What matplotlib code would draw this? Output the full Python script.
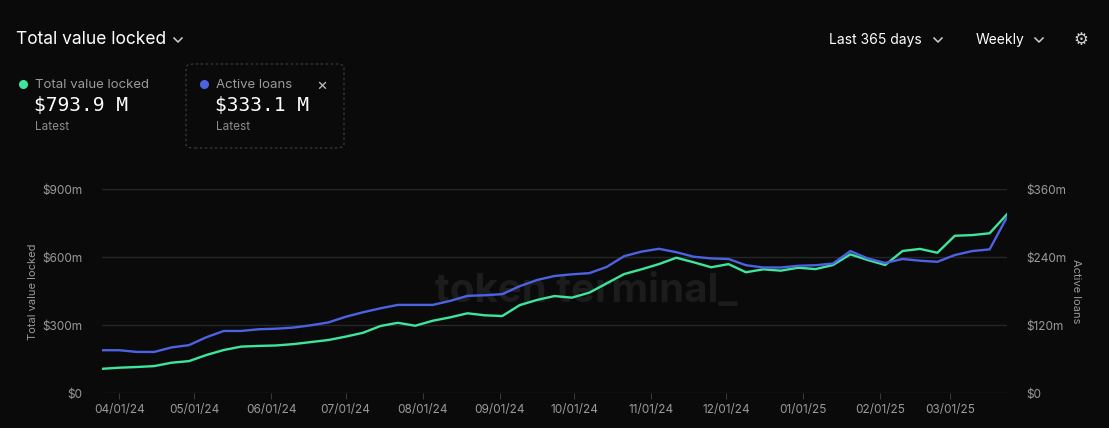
import pandas as pd
import matplotlib.pyplot as plt
from matplotlib.lines import Line2D
from matplotlib.patches import FancyBboxPatch
import matplotlib.dates as mdates

# weekly values (millions of USD)
dates = pd.date_range('2024-03-25', periods=53, freq='7D')
tvl = [108, 113, 116, 120, 135, 142, 169, 191, 206, 209,
       211, 217, 226, 235, 250, 267, 297, 311, 298, 320,
       335, 353, 344, 341, 389, 412, 429, 422, 444, 485,
       526, 547, 570, 598, 578, 556, 570, 534, 547, 541,
       554, 548, 566, 613, 588, 566, 628, 637, 620, 695,
       698, 706, 790]
loans = [76, 76, 73, 73, 81, 85, 99, 110, 110, 113,
         114, 116, 120, 125, 135, 143, 150, 156, 156, 156,
         163, 172, 173, 175, 189, 200, 207, 210, 212, 223,
         242, 250, 255, 249, 241, 238, 237, 226, 222, 222,
         225, 226, 229, 251, 238, 230, 237, 234, 232, 244,
         251, 254, 311]
left_ticks = [0, 300, 600, 900]
left_labels = ['$0', '$300m', '$600m', '$900m']
right_ticks = [0, 120, 240, 360]
right_labels = ['$0', '$120m', '$240m', '$360m']

BG = '#0a0a0a'
GREEN = '#3ee59c'
BLUE = '#4d62e3'
GRID = '#262626'
MUTED = '#9a9a9a'

W, H = 1109, 428
fig = plt.figure(figsize=(W / 100, H / 100), dpi=100, facecolor=BG)
plt.rcParams['font.family'] = ['Inter', 'DejaVu Sans']


def px(x, y):
    return x / W, 1 - y / H


def chevron(x, y, s=4, color='#cfcfcf'):
    xs = [x - s, x, x + s]
    ys = [y - s / 2, y + s / 2, y - s / 2]
    fig.lines.append(Line2D([v / W for v in xs], [1 - v / H for v in ys],
                            transform=fig.transFigure, color=color, lw=1.1))


ax = fig.add_axes([102 / W, 1 - 393.3 / H, 905 / W, 204 / H])
ax.set_facecolor(BG)
ax2 = ax.twinx()

ax.plot(dates, tvl, color=GREEN, lw=1.7, zorder=3)
ax2.plot(dates, loans, color=BLUE, lw=1.7, zorder=2)

ax.set_ylim(0, 900)
ax2.set_ylim(0, 360)
ax.set_xlim(dates[0], dates[-1])
ax.set_yticks(left_ticks)
ax.set_yticklabels(left_labels)
ax2.set_yticks(right_ticks)
ax2.set_yticklabels(right_labels)

ax.xaxis.set_major_locator(mdates.MonthLocator(bymonthday=1))
ax.xaxis.set_major_formatter(mdates.DateFormatter('%m/%d/%y'))

for a in (ax, ax2):
    for s in a.spines.values():
        s.set_visible(False)
ax.grid(True, axis='y', color=GRID, lw=1)
ax.tick_params(axis='y', length=0, pad=14, labelcolor=MUTED, labelsize=8.5)
ax2.tick_params(axis='y', length=0, pad=14, labelcolor=MUTED, labelsize=8.5)
ax.tick_params(axis='x', length=4, color='#3a3a3a', pad=4, labelcolor=MUTED, labelsize=8.5)

ax.set_ylabel('Total value locked', color=MUTED, fontsize=8, labelpad=3)
ax2.set_ylabel('Active loans', color=MUTED, fontsize=8, rotation=270, labelpad=10)

# watermark
ax.text(0.535, 0.50, 'token terminal_', transform=ax.transAxes, ha='center', va='center',
        fontsize=29, fontweight='bold', color='#1c1c1c', zorder=1)

# header
fig.text(*px(16, 40), 'Total value locked', color='white', fontsize=12.5, va='center')
chevron(178, 40)
fig.text(*px(829, 40), 'Last 365 days', color='white', fontsize=10, va='center')
chevron(938, 40)
fig.text(*px(976, 40), 'Weekly', color='white', fontsize=10, va='center')
chevron(1039, 40)
fig.text(*px(1081, 40), '\u2699', color='#d0d0d0', fontsize=12, va='center', ha='center',
         family='DejaVu Sans')

# legend cards
card = FancyBboxPatch((186 / W, 1 - 148 / H), 158 / W, 84 / H,
                      boxstyle='round,pad=0,rounding_size=0.008', transform=fig.transFigure,
                      facecolor='none', edgecolor='#3a3a3a', lw=0.9, ls=(0, (2, 2)))
fig.patches.append(card)

for x0, col, name, value in [(35, GREEN, 'Total value locked', '$793.9 M'),
                             (216, BLUE, 'Active loans', '$333.1 M')]:
    fig.lines.append(Line2D([(x0 - 12) / W], [1 - 84 / H], transform=fig.transFigure,
                            marker='o', ms=5.5, color=col, lw=0))
    fig.text(*px(x0, 85), name, color=MUTED, fontsize=9.5, va='center')
    fig.text(*px(x0 - 1, 106), value, color='white', fontsize=14, va='center',
             family='DejaVu Sans Mono')
    fig.text(*px(x0, 127), 'Latest', color='#8a8a8a', fontsize=8.5, va='center')
fig.text(*px(322, 85), '\u00d7', color='#bfbfbf', fontsize=12, va='center', ha='center')

fig.savefig('out.png', dpi=100, facecolor=BG)
